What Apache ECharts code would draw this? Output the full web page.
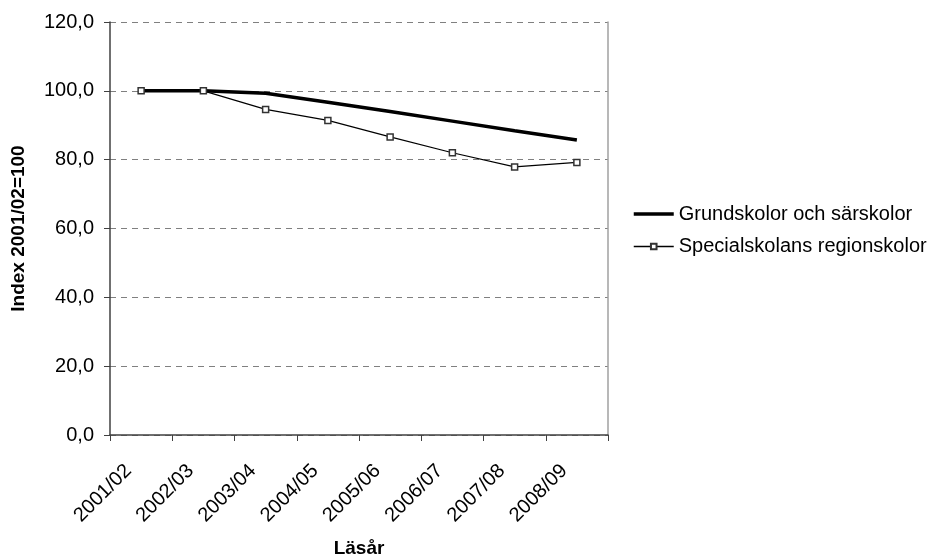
<!DOCTYPE html>
<html>
<head>
<meta charset="utf-8">
<script src="https://cdn.jsdelivr.net/npm/echarts@6/dist/echarts.min.js"></script>
<style>html,body{margin:0;padding:0;background:#fff;}#c{width:939px;height:558px;}</style>
</head>
<body>
<div id="c"></div>
<script>
var categories = ['2001/02','2002/03','2003/04','2004/05','2005/06','2006/07','2007/08','2008/09'];
var grund = [100.0, 100.0, 99.3, 96.7, 94.0, 91.2, 88.4, 85.7];
var special = [100.0, 100.0, 94.6, 91.4, 86.6, 82.0, 77.9, 79.2];
var yTicks = [0, 20, 40, 60, 80, 100, 120];
var seriesNames = ['Grundskolor och särskolor', 'Specialskolans regionskolor'];

var chart = echarts.init(document.getElementById('c'), null, {renderer: 'canvas'});
var font = 'Liberation Sans, Arial, sans-serif';
chart.setOption({
  animation: false,
  backgroundColor: '#fff',
  textStyle: {fontFamily: font},
  grid: {left: 110, right: 331, top: 22, bottom: 123, containLabel: false, outerBoundsMode: 'none'},
  legend: {
    orient: 'vertical', left: 632, top: 204, padding: 0, itemWidth: 40, itemHeight: 7, itemGap: 12.5,
    textStyle: {fontFamily: font, fontSize: 20, color: '#000'},
    data: [
      {name: seriesNames[0], itemStyle: {opacity: 0}, lineStyle: {width: 3.5, color: '#000'}},
      {name: seriesNames[1], lineStyle: {width: 1.5, color: '#000'}}
    ]
  },
  xAxis: {
    type: 'category', data: categories, boundaryGap: true,
    name: 'Läsår', nameLocation: 'middle', nameGap: 104,
    nameTextStyle: {fontFamily: font, fontSize: 19, fontWeight: 'bold', color: '#000'},
    axisLine: {lineStyle: {color: '#404040', width: 1.5}},
    axisTick: {show: true, length: 6, inside: false, alignWithLabel: false, lineStyle: {color: '#404040'}},
    axisLabel: {rotate: 45, fontSize: 20, color: '#000', margin: 20, interval: 0, padding: [0, 18, 0, 0]},
    splitLine: {show: false}
  },
  yAxis: [{
    type: 'value', min: yTicks[0], max: yTicks[yTicks.length - 1], interval: 20,
    name: 'Index 2001/02=100', nameLocation: 'middle', nameGap: 82, nameRotate: 90,
    nameTextStyle: {fontFamily: font, fontSize: 19, fontWeight: 'bold', color: '#000'},
    axisLine: {show: true, lineStyle: {color: '#404040', width: 1.5}},
    axisTick: {show: true, length: 6, lineStyle: {color: '#404040'}},
    axisLabel: {fontSize: 20, color: '#000', margin: 16, formatter: function (v) { return v.toFixed(1).replace('.', ','); }},
    splitLine: {show: true, lineStyle: {color: '#808080', type: [6, 5], width: 1}}
  }, {
    type: 'value', min: 0, max: 120, interval: 20, position: 'right',
    axisLine: {show: true, lineStyle: {color: '#a0a0a0', width: 1.5}},
    axisTick: {show: false}, axisLabel: {show: false}, splitLine: {show: false}
  }],
  series: [{
    name: seriesNames[0], type: 'line', data: grund, yAxisIndex: 0,
    symbol: 'none', smooth: false,
    lineStyle: {color: '#000', width: 3.5},
    itemStyle: {color: '#000'}
  }, {
    name: seriesNames[1], type: 'line', data: special, yAxisIndex: 0,
    symbol: 'rect', symbolSize: 6, showSymbol: true,
    lineStyle: {color: '#000', width: 1.2},
    itemStyle: {color: '#fff', borderColor: '#333', borderWidth: 1.5}
  }]
});
</script>
</body>
</html>
